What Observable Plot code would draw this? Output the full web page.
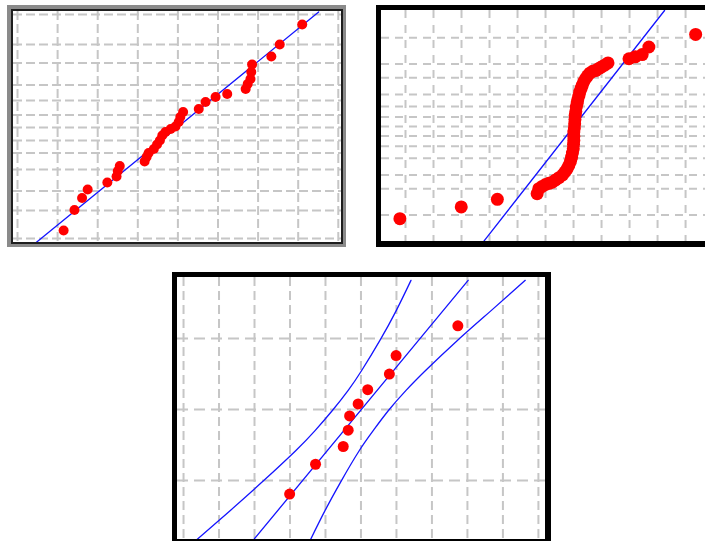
<!DOCTYPE html>
<html><head><meta charset="utf-8">
<script src="https://cdn.jsdelivr.net/npm/d3@7"></script>
<script src="https://cdn.jsdelivr.net/npm/@observablehq/plot@0.6"></script>
<style>
html,body{margin:0;padding:0;background:#fff;overflow:hidden;}
#root{position:relative;width:705px;height:541px;overflow:hidden;background:#fff;}
.panel{position:absolute;box-sizing:content-box;background:#fff;}
.panel svg{display:block;max-width:none !important;}
#p1{left:7px;top:5px;width:332px;border-style:solid;border-color:#8a8a8a;border-width:4px 3px 3px 4px;}
#p1 .in{width:328px;border:2px solid #1e1e1e;}
#p2{left:376px;top:5px;width:350px;height:231px;border-style:solid;border-color:#000;border-width:5px 5px 6px 5px;}
#p3{left:172px;top:272px;width:368px;height:262px;border-style:solid;border-color:#000;border-width:5px 6px 5px 5px;}
</style></head><body><div id="root">
<div class="panel" id="p1"><div class="in"></div></div>
<div class="panel" id="p2"></div>
<div class="panel" id="p3"></div>
</div>
<script>
// ---------- Panel 1 (normal probability plot, 33 values) ----------
const p1XGrid = [0, 1, 2, 3, 4, 5, 6, 7, 8];
const p1YGrid = [2.26, 1.66, 1.29, 0.85, 0.54, 0.25, 0, -0.26, -0.51, -0.84, -1.27, -1.66, -2.22];
const p1X = [7.10, 6.54, 6.33, 5.85, 5.83, 5.81, 5.74, 5.69, 5.23, 4.94, 4.69, 4.52, 4.13, 4.06, 4.02, 3.94, 3.82,
             3.69, 3.61, 3.55, 3.48, 3.40, 3.27, 3.22, 3.17, 2.55, 2.50, 2.47, 2.24, 1.75, 1.61, 1.42, 1.15];
const p1Y = [2.06, 1.66, 1.42, 1.26, 1.11, 0.97, 0.87, 0.77, 0.67, 0.61, 0.51, 0.37, 0.31, 0.21, 0.11, 0.02, -0.03,
             -0.09, -0.16, -0.26, -0.34, -0.43, -0.51, -0.59, -0.68, -0.77, -0.87, -0.98, -1.10, -1.24, -1.41, -1.65, -2.06];
const p1FitX = [0.45, 7.51];
const p1FitY = [-2.31, 2.31];

// ---------- Panel 2 (S-shaped probability plot) ----------
const p2XGrid = [1, 2, 3, 4, 5, 6, 7, 8, 9, 10, 11, 12];
const p2YGrid = [2.33, 1.64, 1.28, 0.84, 0.52, 0.25, 0, -0.25, -0.52, -0.84, -1.28, -1.64, -2.33];
const p2X = [0.80, 2.99, 4.28, 5.70, 5.76, 5.88, 6.00, 6.12, 6.24, 6.36, 6.48, 6.61, 6.69, 6.77, 6.83, 6.89, 6.93, 6.96,
             6.99, 7.00, 7.01, 7.01, 7.01, 7.03, 7.04, 7.05, 7.06, 7.08, 7.10, 7.13, 7.15, 7.19, 7.22, 7.27, 7.31, 7.36,
             7.43, 7.50, 7.58, 7.68, 7.79, 7.89, 7.99, 8.11, 8.23, 8.98, 9.20, 9.45, 9.69, 11.36];
const p2Y = [-2.43, -2.12, -1.92, -1.77, -1.64, -1.58, -1.53, -1.50, -1.47, -1.41, -1.35, -1.28, -1.20, -1.12, -1.03, -0.92, -0.81, -0.70,
             -0.59, -0.47, -0.37, -0.26, -0.15, -0.04, 0.07, 0.18, 0.29, 0.39, 0.51, 0.61, 0.70, 0.80, 0.90, 1.00, 1.08, 1.17,
             1.26, 1.33, 1.40, 1.45, 1.47, 1.52, 1.56, 1.61, 1.67, 1.78, 1.83, 1.89, 2.09, 2.42];
const p2FitX = [3.80, 10.25];
const p2FitY = [-3.02, 3.05];

// ---------- Panel 3 (10 values with confidence band) ----------
const p3XGrid = [0, 1, 2, 3, 4, 5, 6, 7, 8, 9, 10];
const p3YGrid = [1, 0, -1];
const p3X = [2.99, 3.72, 4.50, 4.64, 4.68, 4.92, 5.19, 5.80, 5.99, 7.73];
const p3Y = [-1.19, -0.77, -0.52, -0.29, -0.09, 0.08, 0.28, 0.50, 0.76, 1.18];
const p3FitX = [1.98, 8.02];
const p3FitY = [-1.83, 1.82];
const p3BandY = [-1.83, -1.42, -1.00, -0.58, -0.30, -0.01, 0.27, 0.55, 0.97, 1.39, 1.82];
const p3UpperX = [0.38, 1.32, 2.26, 3.16, 3.70, 4.20, 4.64, 5.02, 5.53, 5.99, 6.41];
const p3LowerX = [3.58, 3.99, 4.45, 4.95, 5.34, 5.78, 6.27, 6.82, 7.71, 8.66, 9.63];

const zip = (xs, ys) => xs.map((x, i) => ({x, y: ys[i]}));

function panel(o) {
  const gridStyle = {stroke: "#c6c6c6", strokeWidth: 2, strokeDasharray: o.dash};
  const marks = [
    Plot.ruleX(o.xGrid, {...gridStyle, strokeDasharray: o.dashV || o.dash}),
    Plot.ruleY(o.yGrid, gridStyle)
  ];
  for (const l of o.lines) {
    marks.push(Plot.line(l.data, {x: "x", y: "y", stroke: "#1414ff", strokeWidth: 1.3, curve: l.curve || "linear", clip: true}));
  }
  marks.push(Plot.dot(o.points, {x: "x", y: "y", r: o.r, fill: "#ff0000", stroke: "none", clip: true}));
  return Plot.plot({
    width: o.width, height: o.height,
    marginTop: 0, marginRight: 0, marginBottom: 0, marginLeft: 0,
    x: {domain: o.xDomain, axis: null},
    y: {domain: o.yDomain, axis: null},
    style: {background: "#fff", overflow: "hidden", maxWidth: "none"},
    marks
  });
}

document.querySelector("#p1 .in").append(panel({
  width: 328, height: 231,
  xDomain: [-0.1, 8.08], yDomain: [-2.30, 2.32],
  xGrid: p1XGrid, yGrid: p1YGrid, dash: "9,4", r: 5,
  points: zip(p1X, p1Y),
  lines: [{data: zip(p1FitX, p1FitY)}]
}));

document.querySelector("#p2").append(panel({
  width: 350, height: 231,
  xDomain: [0.143, 12.64], yDomain: [-3.03, 3.05],
  xGrid: p2XGrid, yGrid: p2YGrid, dash: "8,6", dashV: "8,7", r: 6.5,
  points: zip(p2X, p2Y),
  lines: [{data: zip(p2FitX, p2FitY)}]
}));

document.querySelector("#p3").append(panel({
  width: 368, height: 262,
  xDomain: [-0.17, 10.2], yDomain: [-1.83, 1.86],
  xGrid: p3XGrid, yGrid: p3YGrid, dash: "11,6", dashV: "9,5", r: 5.5,
  points: zip(p3X, p3Y),
  lines: [
    {data: zip(p3FitX, p3FitY)},
    {data: zip(p3UpperX, p3BandY), curve: "natural"},
    {data: zip(p3LowerX, p3BandY), curve: "natural"}
  ]
}));
</script>
</body></html>
